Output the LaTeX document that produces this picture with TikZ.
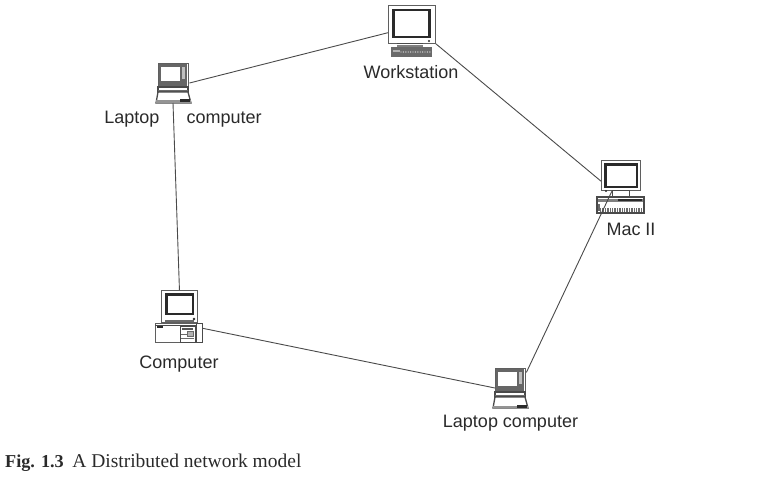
\documentclass[tikz,border=0pt]{standalone}
\usepackage{fontspec}
\setmainfont{Liberation Serif}
\newfontfamily\lab{Liberation Sans}
\definecolor{ink}{HTML}{2A2A2A}
\tikzset{
  x=1pt,y=-1pt,
  lbl/.style={font=\lab\fontsize{18}{20}\selectfont,text=ink,inner sep=0pt,anchor=base},
  captext/.style={font=\fontsize{19.5}{20}\selectfont,text=ink,inner sep=0pt,anchor=base west},
  link/.style={draw=ink!85,line width=0.9pt},
  outl/.style={draw=ink!85,fill=white,line width=0.9pt},
  fr/.style={draw=ink!75,fill=white,line width=0.9pt,rectangle,inner sep=0pt,minimum width=#1},
  fr/.default=10pt,
  thickscr/.style={draw=ink,fill=white,line width=2.4pt}
}
\newcommand{\lapicon}[3]{% name, x, y  (lid top-left)
  \node[fr=30pt,minimum height=24pt,anchor=north west,line width=1.4pt] (#1) at (#2,#3) {};
  \begin{scope}[shift={(#2,#3)}]
    \fill[ink!72] (1,1) rectangle (29,23);
    \fill[white] (3,4) rectangle (22,18);
    \fill[white!75!black] (24,4) rectangle (27,16);
    \draw[outl,line width=1.2pt] (0,24) rectangle (30,29);
    \draw[ink!70,line width=0.8pt] (0,27) -- (30,27);
    \draw[outl,line width=1.3pt] (0,29) -- (30,29) -- (33,40) -- (-2,40) -- cycle;
    \fill[ink!50] (-2,37.5) rectangle (33,40);
    \fill[ink] (22,36.5) rectangle (32,39.5);
  \end{scope}
}
\begin{document}
\begin{tikzpicture}
\useasboundingbox (0,0) rectangle (775,476);
% --- Workstation
\node[fr=47pt,minimum height=38pt,anchor=north west] (ws) at (388,5) {};
\draw[thickscr] (393.5,10) rectangle (429.5,37);
\fill[ink] (429,41) circle (1.2);
\draw[outl] (397,43) -- (423,43);
\fill[ink!60] (397,45) rectangle (423,47.5);
\fill[ink!70] (391,47.5) rectangle (432,57);
\foreach \i in {0,...,12}{\fill[white!85!black] (401+\i*2.4,52) circle (0.7);}
\fill[white!70!black] (393,50) rectangle (400,52);
% --- Mac II
\node[fr=39pt,minimum height=30pt,anchor=north west] (mac) at (601,160) {};
\draw[thickscr] (605.5,164.5) rectangle (637,187);
\fill[ink] (606,191) circle (1.2);
\draw[outl] (612,190) rectangle (629,196);
\draw[outl,line width=1.1pt] (597,197) rectangle (644,213);
\fill[ink!60] (598,199) rectangle (643,202);
\fill[ink] (618,199) rectangle (642,201);
\foreach \i in {0,...,17}{\fill[ink!70] (600+\i*2.4,208) rectangle ++(1.3,4);}
\fill[ink!70] (598,204) rectangle (600,211);
% --- Computer
\node[fr=36pt,minimum height=32pt,anchor=north west] (pc) at (161,290) {};
\draw[thickscr] (166.5,294.5) rectangle (193,314);
\fill[ink!70] (165,320) rectangle (194,322);
\fill[ink] (194,319) circle (1.3);
\node[fr=47pt,minimum height=19pt,anchor=north west,line width=1.1pt] (pcbase) at (155,323) {};
\draw[ink!85,line width=1pt] (155,325.5) -- (202,325.5);
\fill[ink] (157,326) rectangle (163,328);
\draw[outl,line width=0.9pt] (180,326) rectangle (195,342);
\fill[ink!80] (182,328) rectangle (193,330);
\draw[ink!70,line width=0.6pt] (181,334) -- (194,334) (181,338) -- (194,338);
\draw[ink!70,fill=white!70!black,line width=0.6pt] (187,331) rectangle (193,336);
\draw[outl,line width=0.9pt] (196,323) rectangle (202,342);
% --- Laptops
\lapicon{lapa}{158}{63}
\lapicon{lapb}{495}{368}
% --- Connectors
\draw[link] (lapa.-25) -- (ws.199);
\draw[link] (ws.-39) -- (mac.196);
\draw[link] (mac.240) -- (lapb.28);
\draw[link] (pcbase.11) -- (lapb.205);
\coordinate (lapaBase) at (173,103);
\draw[link] (lapaBase) -- (pc.north);
% --- Labels
\node[lbl] (wslab) at (411,79) {Workstation};
\node[lbl] (maclab) at (631,235) {Mac II};
\node[lbl] (lapalab) at (183,123) {Laptop\hspace{27pt}computer};
\node[lbl] (pclab) at (179,368) {Computer};
\node[lbl] (lapblab) at (510.5,427) {Laptop computer};
\node[captext] (caption) at (5,467) {{\fontsize{18.2}{20}\selectfont\textbf{Fig. 1.3}}\hspace{8.5pt}A Distributed network model};
\end{tikzpicture}
\end{document}
